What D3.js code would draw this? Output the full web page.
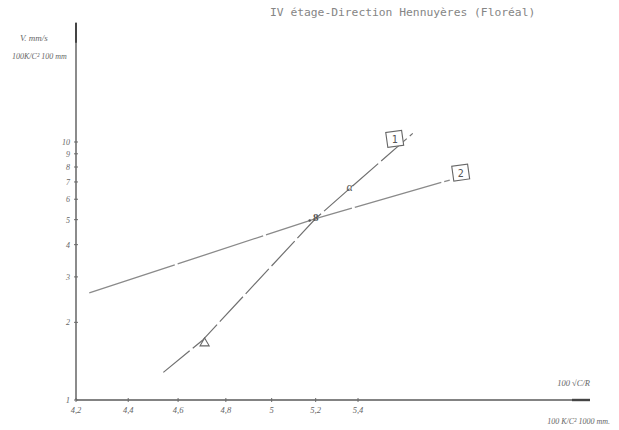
<!DOCTYPE html>
<html><head><meta charset="utf-8">
<script src="https://cdn.jsdelivr.net/npm/d3@7"></script>
<style>html,body{margin:0;padding:0;background:#fff;}svg{display:block;}</style>
</head><body>
<script>
// ---- data ----
const title = "IV étage-Direction Hennuyères (Floréal)";
const xTickValues = [4.2, 4.4, 4.6, 4.8, 5.0, 5.2, 5.4];
const xTickLabels = ["4,2", "4,4", "4,6", "4,8", "5", "5,2", "5,4"];
const yTickValues = [1, 2, 3, 4, 5, 6, 7, 8, 9, 10];
const yTickLabels = ["1", "2", "3", "4", "5", "6", "7", "8", "9", "10"];
const line1X = [4.54, 4.70, 5.20, 5.36, 5.67];
const line1Y = [1.28, 1.70, 5.05, 6.60, 10.8];
const line2X = [4.25, 5.20, 5.86];
const line2Y = [2.60, 5.05, 7.12];
const seriesNames = ["1", "2"];
const markerX = [4.71, 5.20, 5.36];
const markerY = [1.66, 5.10, 6.70];
const markerShapes = ["triangle", "eight", "alpha"];

const W = 619, H = 430;
const svg = d3.select("body").append("svg").attr("width", W).attr("height", H);
svg.append("rect").attr("width", W).attr("height", H).attr("fill", "#fff");

const x = d3.scaleLog().domain([4.2, 6.64]).range([76, 590]);
const y = d3.scaleLog().domain([1, 29]).range([400, 22.7]);
const ink = "#6a6a6a";

// title
svg.append("text").attr("x", 270).attr("y", 16)
  .attr("font-family", "DejaVu Sans Mono").attr("font-size", 11.3)
  .attr("fill", "#858585").text(title);

// axes lines
svg.append("line").attr("x1", x(4.2)).attr("x2", x(4.2)).attr("y1", y(29)).attr("y2", y(1))
  .attr("stroke", "#5a5a5a").attr("stroke-width", 1.4);
svg.append("line").attr("x1", x(4.2)).attr("x2", x(4.2)).attr("y1", y(29)).attr("y2", y(29) + 20)
  .attr("stroke", "#444").attr("stroke-width", 2);
svg.append("line").attr("x1", x(4.2)).attr("x2", x(6.64)).attr("y1", y(1)).attr("y2", y(1))
  .attr("stroke", "#5a5a5a").attr("stroke-width", 1.4);
svg.append("line").attr("x1", x(6.64) - 18).attr("x2", x(6.64)).attr("y1", y(1)).attr("y2", y(1))
  .attr("stroke", "#444").attr("stroke-width", 2.4);

const tickFont = "Liberation Serif";
// y ticks
const yg = svg.append("g");
yTickValues.forEach((v, i) => {
  yg.append("line").attr("x1", x(4.2) - 2).attr("x2", x(4.2) + 2).attr("y1", y(v)).attr("y2", y(v))
    .attr("stroke", ink).attr("stroke-width", 1);
  yg.append("text").attr("x", x(4.2) - 6).attr("y", y(v) + 3).attr("text-anchor", "end")
    .attr("font-family", tickFont).attr("font-style", "italic").attr("font-size", v === 1 ? 8.5 : 8)
    .attr("fill", "#666").text(yTickLabels[i]);
});
// x ticks
const xg = svg.append("g");
xTickValues.forEach((v, i) => {
  xg.append("line").attr("x1", x(v)).attr("x2", x(v)).attr("y1", y(1) - 2).attr("y2", y(1) + 2)
    .attr("stroke", ink).attr("stroke-width", 1);
  xg.append("text").attr("x", x(v)).attr("y", y(1) + 13).attr("text-anchor", "middle")
    .attr("font-family", tickFont).attr("font-style", "italic").attr("font-size", 8.5)
    .attr("fill", "#666").text(xTickLabels[i]);
});

// axis labels
const lab = (tx, ty, s, fs, anchor) => svg.append("text").attr("x", tx).attr("y", ty)
  .attr("text-anchor", anchor || "start")
  .attr("font-family", tickFont).attr("font-style", "italic").attr("font-size", fs)
  .attr("fill", "#666").text(s);
lab(20, 41, "V. mm/s", 9);
lab(12, 59, "100K/C² 100 mm", 8);
lab(590, 386, "100 √C/R", 8.5, "end");
lab(610, 424, "100 K/C² 1000 mm.", 8, "end");

// lines
const lineGen = d3.line().x(d => x(d[0])).y(d => y(d[1]));
svg.append("path").datum(d3.zip(line1X, line1Y)).attr("d", lineGen)
  .attr("fill", "none").attr("stroke", "#707070").attr("stroke-width", 1.2)
  .attr("stroke-dasharray", "34,4");
svg.append("path").datum(d3.zip(line2X, line2Y)).attr("d", lineGen)
  .attr("fill", "none").attr("stroke", "#8a8a8a").attr("stroke-width", 1.3)
  .attr("stroke-dasharray", "90,3");

// series labels in boxes
const boxLabel = (px, py, s) => {
  const g = svg.append("g").attr("transform", `translate(${px},${py})`);
  g.append("rect").attr("x", -8).attr("y", -8).attr("width", 16).attr("height", 15)
    .attr("fill", "#fff").attr("stroke", "#666").attr("stroke-width", 1.1)
    .attr("transform", "rotate(-8)");
  g.append("text").attr("x", 0).attr("y", 4).attr("text-anchor", "middle")
    .attr("font-family", "DejaVu Sans Mono").attr("font-size", 10).attr("fill", "#555").text(s);
};
boxLabel(x(line1X[line1X.length - 1]) - 18, y(line1Y[line1Y.length - 1]) + 6, seriesNames[0]);
boxLabel(x(line2X[line2X.length - 1]) + 11, y(line2Y[line2Y.length - 1]) - 7, seriesNames[1]);

// markers
markerX.forEach((mx, i) => {
  const px = x(mx), py = y(markerY[i]);
  const shp = markerShapes[i];
  if (shp === "triangle") {
    svg.append("path").attr("d", d3.symbol().type(d3.symbolTriangle).size(36)())
      .attr("transform", `translate(${px},${py})`).attr("fill", "#fff")
      .attr("stroke", "#666").attr("stroke-width", 1.1);
  } else if (shp === "eight") {
    svg.append("text").attr("x", px).attr("y", py + 4).attr("text-anchor", "middle")
      .attr("font-family", tickFont).attr("font-size", 11).attr("font-weight", "bold")
      .attr("fill", "#555").text("8");
    svg.append("circle").attr("cx", px - 6).attr("cy", py + 3).attr("r", 1.2).attr("fill", "#555");
  } else {
    svg.append("text").attr("x", px).attr("y", py + 4).attr("text-anchor", "middle")
      .attr("font-family", tickFont).attr("font-style", "italic").attr("font-size", 12)
      .attr("fill", "#555").text("α");
  }
});
</script>
</body></html>
